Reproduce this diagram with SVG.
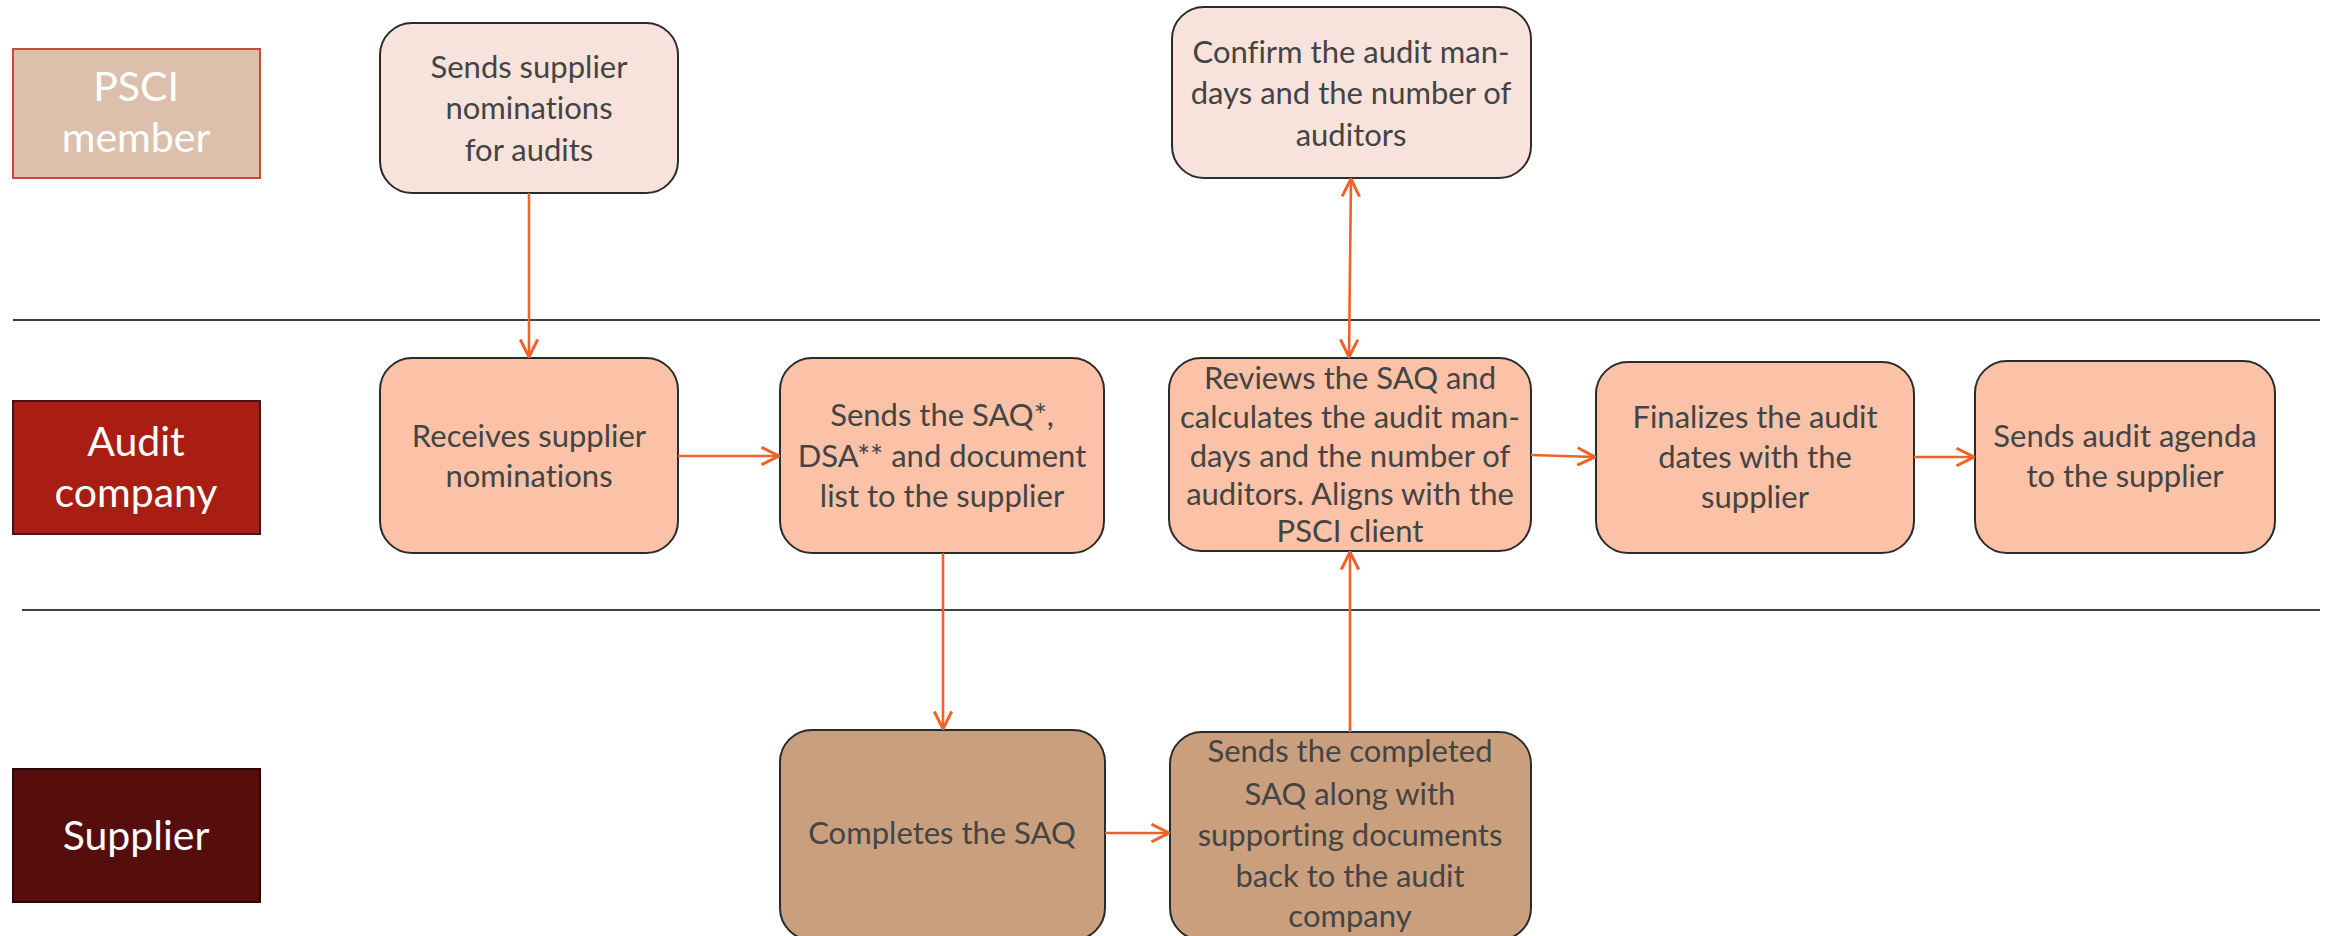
<svg xmlns="http://www.w3.org/2000/svg" width="2328" height="936" viewBox="0 0 2328 936">
<defs>
<marker id="ah" markerUnits="userSpaceOnUse" markerWidth="20" markerHeight="20" viewBox="0 0 16 16" refX="15" refY="8" orient="auto-start-reverse">
<path d="M1,1 L15,8 L1,15" fill="none" stroke="#ee6329" stroke-width="2.4"/>
</marker>
</defs>
<style>
.lane{stroke-width:2}
.lt{font-family:Lato,"Open Sans",sans-serif;font-size:41px;fill:#ffffff;text-anchor:middle;font-variant-ligatures:none}
.nd{stroke:#2b2b2b;stroke-width:2}
.nt{font-family:Lato,"Open Sans",sans-serif;font-size:31px;fill:#444444;text-anchor:middle;font-variant-ligatures:none}
.pk{fill:#f8e3dc}
.sa{fill:#fbc2a7}
.tn{fill:#c99f7d}
.sep{stroke:#404040;stroke-width:2}
.cn{stroke:#ee6329;stroke-width:2.6;fill:none}
</style>
<rect width="2328" height="936" fill="#ffffff"/>
<g id="separators">
<line class="sep" x1="13" y1="320" x2="2320" y2="320"/>
<line class="sep" x1="22" y1="610" x2="2320" y2="610"/>
</g>
<g id="lane-psci">
<rect class="lane" x="13" y="49" width="247" height="129" fill="#dcc0ab" stroke="#c84a3a"/>
<text class="lt" x="136" y="101">PSCI</text>
<text class="lt" x="136" y="152">member</text>
</g>
<g id="lane-audit">
<rect class="lane" x="13" y="401" width="247" height="133" fill="#a81e12" stroke="#3a1a14"/>
<text class="lt" x="136" y="456">Audit</text>
<text class="lt" x="136" y="507">company</text>
</g>
<g id="lane-supplier">
<rect class="lane" x="13" y="769" width="247" height="133" fill="#550e0c" stroke="#2a0808"/>
<text class="lt" x="136" y="850">Supplier</text>
</g>
<g id="n-sends-nominations">
<rect class="nd pk" x="380" y="23" width="298" height="170" rx="32"/>
<text class="nt" x="529" y="78">Sends supplier</text>
<text class="nt" x="529" y="119">nominations</text>
<text class="nt" x="529" y="161">for audits</text>
</g>
<g id="n-confirm">
<rect class="nd pk" x="1172" y="7" width="359" height="171" rx="32"/>
<text class="nt" x="1351" y="63">Confirm the audit man-</text>
<text class="nt" x="1351" y="104">days and the number of</text>
<text class="nt" x="1351" y="146">auditors</text>
</g>
<g id="n-receives">
<rect class="nd sa" x="380" y="358" width="298" height="195" rx="32"/>
<text class="nt" x="529" y="447">Receives supplier</text>
<text class="nt" x="529" y="487">nominations</text>
</g>
<g id="n-sends-saq">
<rect class="nd sa" x="780" y="358" width="324" height="195" rx="32"/>
<text class="nt" x="942" y="426">Sends the SAQ*,</text>
<text class="nt" x="942" y="467">DSA** and document</text>
<text class="nt" x="942" y="507">list to the supplier</text>
</g>
<g id="n-reviews">
<rect class="nd sa" x="1169" y="358" width="362" height="193" rx="32"/>
<text class="nt" x="1350" y="389">Reviews the SAQ and</text>
<text class="nt" x="1350" y="428">calculates the audit man-</text>
<text class="nt" x="1350" y="467">days and the number of</text>
<text class="nt" x="1350" y="505">auditors. Aligns with the</text>
<text class="nt" x="1350" y="542">PSCI client</text>
</g>
<g id="n-finalizes">
<rect class="nd sa" x="1596" y="362" width="318" height="191" rx="32"/>
<text class="nt" x="1755" y="428">Finalizes the audit</text>
<text class="nt" x="1755" y="468">dates with the</text>
<text class="nt" x="1755" y="508">supplier</text>
</g>
<g id="n-agenda">
<rect class="nd sa" x="1975" y="361" width="300" height="192" rx="32"/>
<text class="nt" x="2125" y="447">Sends audit agenda</text>
<text class="nt" x="2125" y="487">to the supplier</text>
</g>
<g id="n-completes">
<rect class="nd tn" x="780" y="730" width="325" height="210" rx="32"/>
<text class="nt" x="942" y="844">Completes the SAQ</text>
</g>
<g id="n-sends-completed">
<rect class="nd tn" x="1170" y="732" width="361" height="208" rx="32"/>
<text class="nt" x="1350" y="762">Sends the completed</text>
<text class="nt" x="1350" y="805">SAQ along with</text>
<text class="nt" x="1350" y="846">supporting documents</text>
<text class="nt" x="1350" y="887">back to the audit</text>
<text class="nt" x="1350" y="927">company</text>
</g>
<g id="connectors">
<line class="cn" x1="529" y1="193" x2="529" y2="357" marker-end="url(#ah)"/>
<line class="cn" x1="678" y1="456" x2="779" y2="456" marker-end="url(#ah)"/>
<line class="cn" x1="943" y1="553" x2="943" y2="729" marker-end="url(#ah)"/>
<line class="cn" x1="1105" y1="833" x2="1169" y2="833" marker-end="url(#ah)"/>
<line class="cn" x1="1350" y1="732" x2="1350" y2="552" marker-end="url(#ah)"/>
<line class="cn" x1="1349" y1="357" x2="1351" y2="179" marker-start="url(#ah)" marker-end="url(#ah)"/>
<line class="cn" x1="1531" y1="455" x2="1595" y2="457" marker-end="url(#ah)"/>
<line class="cn" x1="1914" y1="457" x2="1974" y2="457" marker-end="url(#ah)"/>
</g>
</svg>
